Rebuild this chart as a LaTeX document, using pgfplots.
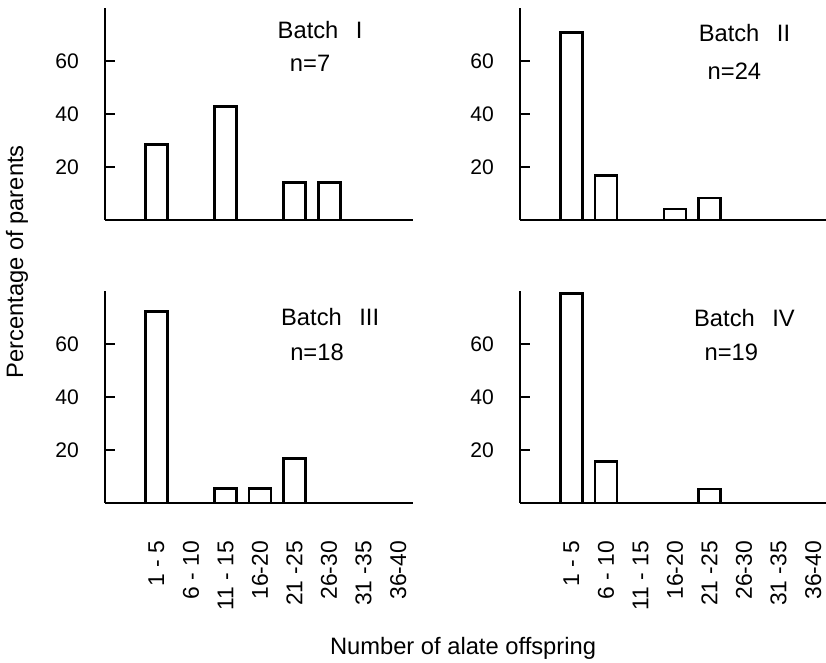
\documentclass[border=0pt]{standalone}
\usepackage{fontspec}
\setmainfont{Liberation Sans}
\usepackage{pgfplots}
\pgfplotsset{compat=1.18}

\tikzset{batchlabel/.style={font=\fontsize{13.5}{16}\selectfont, inner sep=0pt}}

% common look of the four panels
\pgfplotsset{
  batch/.style={
    scale only axis, width=6.16cm, height=4.24cm,
    xmin=-0.49, xmax=8.43, ymin=0, ymax=80,
    axis x line=bottom, axis y line=left,
    axis line style={-, line width=1.2pt},
    ytick={20,40,60},
    major y tick style={draw=none},
    xtick=\empty,
    /pgf/number format/assume math mode=true,
    yticklabel style={font=\fontsize{12}{14}\selectfont, inner sep=0pt, xshift=-0.44cm},
  },
  bottomrow/.style={
    xtick={1,...,8},
    xticklabels={1 - 5, 6 - 10, 11 - 15, 16-20, 21 -25, 26-30, 31 -35, 36-40},
    xticklabel style={rotate=90, anchor=east, inner sep=0pt, font=\fontsize{13}{14}\selectfont},
    xticklabel shift=0.68cm,
    major x tick style={draw=none},
  },
  bars/.style={ybar, bar width=0.44cm, bar shift=0pt, draw=black, fill=white, line width=1.6pt},
}

\begin{document}
\begin{tikzpicture}
\useasboundingbox (0,0) rectangle (16.52,13.26);

\begin{axis}[batch, at={(2.10cm,8.86cm)}, anchor=south west]
\addplot[bars] coordinates {(1,28.57) (3,42.86) (5,14.29) (6,14.29)};
\node[batchlabel] at (axis cs:5.74,71.7) {Batch\hspace{0.35cm}I};
\node[batchlabel] at (axis cs:5.45,59.2) {n=7};
\end{axis}

\begin{axis}[batch, at={(10.40cm,8.86cm)}, anchor=south west]
\addplot[bars] coordinates {(1,70.83) (2,16.67) (4,4.17) (5,8.33)};
\node[batchlabel] at (axis cs:6.01,70.6) {Batch\hspace{0.35cm}II};
\node[batchlabel] at (axis cs:5.72,56.0) {n=24};
\end{axis}

\begin{axis}[batch, bottomrow, at={(2.10cm,3.20cm)}, anchor=south west]
\addplot[bars] coordinates {(1,72.22) (3,5.56) (4,5.56) (5,16.67)};
\node[batchlabel] at (axis cs:6.03,70.2) {Batch\hspace{0.35cm}III};
\node[batchlabel] at (axis cs:5.65,57.0) {n=18};
\end{axis}

\begin{axis}[batch, bottomrow, at={(10.40cm,3.20cm)}, anchor=south west]
\addplot[bars] coordinates {(1,78.95) (2,15.79) (5,5.26)};
\node[batchlabel] at (axis cs:6.01,69.8) {Batch\hspace{0.35cm}IV};
\node[batchlabel] at (axis cs:5.63,57.0) {n=19};
\end{axis}

% inward tick marks at 20, 40, 60 (1.06 cm per 20 units) on each left axis
\foreach \ox/\oy in {2.10/8.86, 10.40/8.86, 2.10/3.20, 10.40/3.20}
  \foreach \t in {1.06, 2.12, 3.18}
    \draw[line width=1.2pt] (\ox, \oy+\t) -- (\ox+0.2, \oy+\t);

\node[rotate=90, font=\fontsize{13.5}{16}\selectfont] at (0.34,8.02) {Percentage of parents};
\node[font=\fontsize{13.5}{16}\selectfont] at (9.26,0.30) {Number of alate offspring};
\end{tikzpicture}
\end{document}
